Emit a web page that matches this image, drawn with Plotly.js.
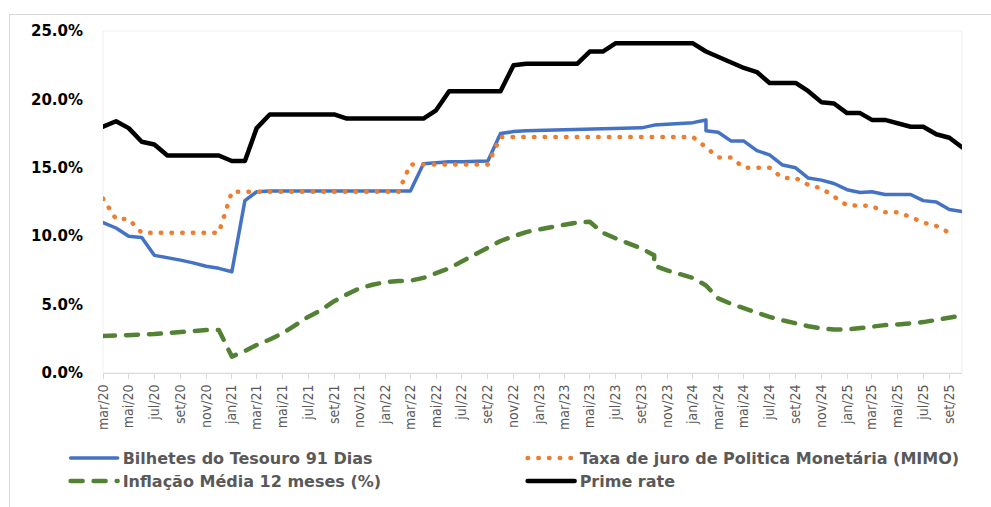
<!DOCTYPE html>
<html><head><meta charset="utf-8">
<script src="https://cdn.plot.ly/plotly-3.0.1.min.js"></script>
<style>
html,body{margin:0;padding:0;background:#fff;overflow:hidden;}
#frame{position:absolute;left:9px;top:14px;width:990px;height:500px;border-left:1px solid #d9d9d9;border-top:1px solid #d9d9d9;}
#chart{position:absolute;left:0;top:0;width:991px;height:507px;}
.scatterlayer path.js-line, .legendlines path{stroke-linecap:round !important;stroke-linejoin:round !important;}
</style></head>
<body><div id="frame"></div><div id="chart"></div>
<script>
// Monthly dates (mar/20 .. out/25)
const months = [
 '2020-03-01','2020-04-01','2020-05-01','2020-06-01','2020-07-01','2020-08-01','2020-09-01','2020-10-01','2020-11-01','2020-12-01',
 '2021-01-01','2021-02-01','2021-03-01','2021-04-01','2021-05-01','2021-06-01','2021-07-01','2021-08-01','2021-09-01','2021-10-01','2021-11-01','2021-12-01',
 '2022-01-01','2022-02-01','2022-03-01','2022-04-01','2022-05-01','2022-06-01','2022-07-01','2022-08-01','2022-09-01','2022-10-01','2022-11-01','2022-12-01',
 '2023-01-01','2023-02-01','2023-03-01','2023-04-01','2023-05-01','2023-06-01','2023-07-01','2023-08-01','2023-09-01','2023-10-01','2023-11-01','2023-12-01',
 '2024-01-01','2024-02-01','2024-03-01','2024-04-01','2024-05-01','2024-06-01','2024-07-01','2024-08-01','2024-09-01','2024-10-01','2024-11-01','2024-12-01',
 '2025-01-01','2025-02-01','2025-03-01','2025-04-01','2025-05-01','2025-06-01','2025-07-01','2025-08-01','2025-09-01','2025-10-01'
];

// Bilhetes do Tesouro 91 Dias (two readings in fev/24)
const bilhetesDates = months.slice(0,48).concat(['2024-02-01']).concat(months.slice(48));
const bilhetes = [
 11.0,10.6,10.0,9.9,8.6,8.45,8.25,8.05,7.8,7.65,
 7.4,12.6,13.25,13.3,13.3,13.3,13.3,13.3,13.3,13.3,13.3,13.3,
 13.3,13.3,13.3,15.3,15.4,15.45,15.45,15.45,15.5,17.5,17.65,17.7,
 17.72,17.74,17.76,17.78,17.8,17.82,17.85,17.88,17.92,18.12,18.18,18.22,
 18.3,18.5,17.7,17.6,16.95,16.95,16.25,15.95,15.2,15.0,14.25,14.1,13.85,
 13.4,13.2,13.25,13.05,13.05,13.05,12.6,12.5,11.95,11.8
];

// Taxa de juro de Politica Monetária (MIMO)
const taxa = [
 12.75,11.25,11.25,10.25,10.25,10.25,10.25,10.25,10.25,10.25,
 13.25,13.25,13.25,13.25,13.25,13.25,13.25,13.25,13.25,13.25,13.25,13.25,
 13.25,13.25,15.25,15.25,15.25,15.25,15.25,15.25,15.25,17.25,17.25,17.25,
 17.25,17.25,17.25,17.25,17.25,17.25,17.25,17.25,17.25,17.25,17.25,17.25,
 17.25,16.5,15.75,15.75,15.0,15.0,15.0,14.25,14.25,13.75,13.5,12.9,
 12.25,12.25,12.2,11.75,11.75,11.4,11.0,10.75,10.25,null
];

// Inflação Média 12 meses (%) (two readings in out/23)
const inflacaoDates = months.slice(0,44).concat(['2023-10-01']).concat(months.slice(44));
const inflacao = [
 2.7,2.72,2.75,2.8,2.85,2.92,3.0,3.07,3.14,3.15,
 1.2,1.6,2.05,2.45,2.9,3.5,4.1,4.6,5.25,5.75,6.2,6.45,
 6.65,6.72,6.75,6.95,7.3,7.65,8.15,8.65,9.2,9.65,10.0,10.3,
 10.5,10.7,10.87,11.0,11.05,10.25,9.85,9.5,9.1,8.6,7.85,7.5,7.2,
 6.95,6.4,5.45,5.05,4.72,4.4,4.1,3.85,3.6,3.42,3.27,3.18,
 3.17,3.3,3.45,3.5,3.55,3.62,3.72,3.88,4.05,4.2
];

// Prime rate
const prime = [
 18.0,18.4,17.9,16.9,16.7,15.9,15.9,15.9,15.9,15.9,
 15.5,15.5,17.9,18.9,18.9,18.9,18.9,18.9,18.9,18.6,18.6,18.6,
 18.6,18.6,18.6,18.6,19.2,20.6,20.6,20.6,20.6,20.6,22.5,22.6,
 22.6,22.6,22.6,22.6,23.5,23.5,24.1,24.1,24.1,24.1,24.1,24.1,
 24.1,23.5,23.1,22.7,22.3,22.0,21.2,21.2,21.2,20.6,19.8,19.7,
 19.0,19.0,18.5,18.5,18.25,18.0,18.0,17.45,17.2,16.5
];

const seriesNames = ['Bilhetes do Tesouro 91 Dias','Taxa de juro de Politica Monetária (MIMO)','Inflação Média 12 meses (%)','Prime rate'];

const tickVals = ['2020-03-01','2020-05-01','2020-07-01','2020-09-01','2020-11-01','2021-01-01','2021-03-01','2021-05-01','2021-07-01','2021-09-01','2021-11-01',
 '2022-01-01','2022-03-01','2022-05-01','2022-07-01','2022-09-01','2022-11-01','2023-01-01','2023-03-01','2023-05-01','2023-07-01','2023-09-01','2023-11-01',
 '2024-01-01','2024-03-01','2024-05-01','2024-07-01','2024-09-01','2024-11-01','2025-01-01','2025-03-01','2025-05-01','2025-07-01','2025-09-01'];
const tickText = ['mar/20','mai/20','jul/20','set/20','nov/20','jan/21','mar/21','mai/21','jul/21','set/21','nov/21',
 'jan/22','mar/22','mai/22','jul/22','set/22','nov/22','jan/23','mar/23','mai/23','jul/23','set/23','nov/23',
 'jan/24','mar/24','mai/24','jul/24','set/24','nov/24','jan/25','mar/25','mai/25','jul/25','set/25'];

const yTickVals = [0,5,10,15,20,25];
const yTickText = ['0.0%','5.0%','10.0%','15.0%','20.0%','25.0%'];

const traces = [
 {x:bilhetesDates, y:bilhetes, name:seriesNames[0], type:'scatter', mode:'lines', line:{color:'#4472C4', width:3.5}, legend:'legend', hoverinfo:'skip'},
 {x:months, y:taxa, name:seriesNames[1], type:'scatter', mode:'lines', line:{color:'#ED7D31', width:4.5, dash:'0.5px,10.2px'}, legend:'legend', hoverinfo:'skip'},
 {x:inflacaoDates, y:inflacao, name:seriesNames[2], type:'scatter', mode:'lines', line:{color:'#548235', width:4.5, dash:'12px,11px'}, legend:'legend2', hoverinfo:'skip'},
 {x:months, y:prime, name:seriesNames[3], type:'scatter', mode:'lines', line:{color:'#000000', width:4.5}, legend:'legend2', hoverinfo:'skip'}
];

const legendFont = {family:'DejaVu Sans, sans-serif', size:16, color:'#595959', weight:'bold'};
const legendBase = {orientation:'h', xanchor:'left', yanchor:'middle', x:-0.0435, entrywidth:395, entrywidthmode:'pixels', itemwidth:47, font:legendFont, bgcolor:'rgba(0,0,0,0)', traceorder:'normal', itemclick:false, itemdoubleclick:false};

const layout = {
 width:991, height:507,
 margin:{l:103, r:29, t:31, b:134, autoexpand:false},
 paper_bgcolor:'rgba(0,0,0,0)', plot_bgcolor:'rgba(0,0,0,0)',
 showlegend:true,
 xaxis:{type:'date', range:['2020-03-01','2025-10-01'], tickmode:'array', tickvals:tickVals, ticktext:tickText, tickangle:-90,
   ticks:'outside', ticklen:5, tickcolor:'#d9d9d9', showline:true, linecolor:'#d9d9d9', linewidth:1, showgrid:false, zeroline:false, automargin:false,
   tickfont:{family:'Liberation Sans Narrow, DejaVu Sans Condensed, sans-serif', size:14, color:'#595959'}},
 yaxis:{range:[0,25], tickmode:'array', tickvals:yTickVals, ticktext:yTickText, showgrid:false, zeroline:false, showline:false, ticks:'', automargin:false,
   ticklabelstandoff:19, tickfont:{family:'DejaVu Sans, sans-serif', size:15, color:'#000000', weight:'bold'}},
 legend:Object.assign({}, legendBase, {y:-0.2485}),
 legend2:Object.assign({}, legendBase, {y:-0.3158}),
 shapes:[{type:'rect', xref:'paper', yref:'paper', x0:0, x1:1, y0:0, y1:1, line:{color:'#efefef', width:1}, layer:'below'}]
};

Plotly.newPlot('chart', traces, layout, {displayModeBar:false, staticPlot:true});
</script></body></html>
